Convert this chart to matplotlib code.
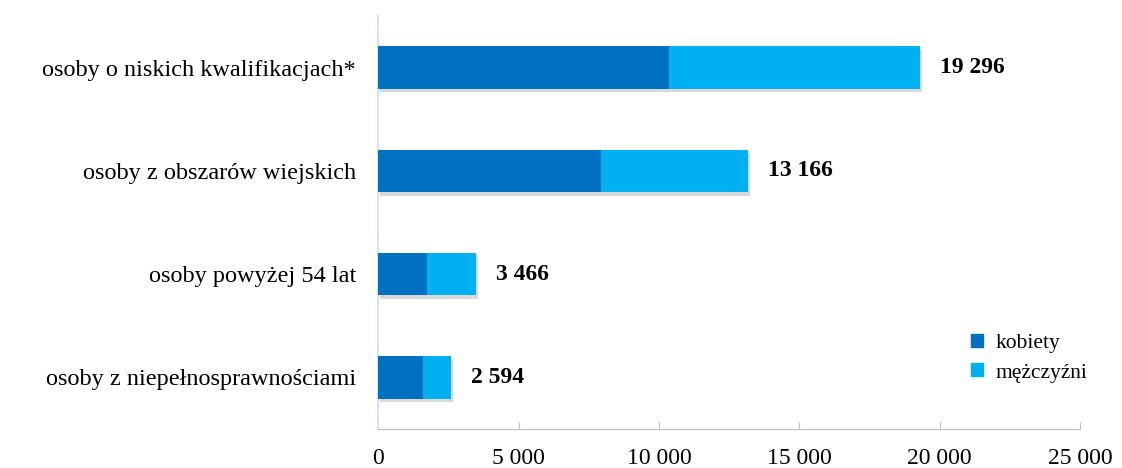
import matplotlib
matplotlib.use("Agg")
import matplotlib.pyplot as plt
import matplotlib.patheffects as pe
from matplotlib.patches import Patch

categories = ["osoby z niepełnosprawnościami", "osoby powyżej 54 lat",
              "osoby z obszarów wiejskich", "osoby o niskich kwalifikacjach*"]
kobiety = [1575, 1720, 7930, 10350]
totals = [2594, 3466, 13166, 19296]
mezczyzni = [t - k for t, k in zip(totals, kobiety)]
series_names = ["kobiety", "mężczyźni"]
xticks = [0, 5000, 10000, 15000, 20000, 25000]

plt.rcParams['font.family'] = ['Liberation Serif', 'DejaVu Serif']

fig = plt.figure(figsize=(11.22, 4.68), dpi=100)
ax = fig.add_axes([0.3372, 0.0833, 0.6254, 0.8825])

c1, c2 = "#0070C0", "#00B0F0"
shadow = [pe.SimplePatchShadow(offset=(1.5, -2.5), shadow_rgbFace="#808080", alpha=0.3), pe.Normal()]
y = list(range(len(categories)))
b1 = ax.barh(y, kobiety, height=0.41, color=c1, zorder=3)
b2 = ax.barh(y, mezczyzni, left=kobiety, height=0.41, color=c2, zorder=3)
for bar in list(b1) + list(b2):
    bar.set_path_effects(shadow)

for yi, t in zip(y, totals):
    ax.text(t + 720, yi, f"{t:,}".replace(",", " "), va="center", ha="left",
            fontsize=17, fontweight="bold", color="#000000")

ax.set_xlim(0, 25000)
ax.set_ylim(-0.5, 3.5)
ax.set_xticks(xticks)
ax.set_xticklabels([f"{v:,}".replace(",", " ") for v in xticks], fontsize=17)
ax.set_yticks(y)
ax.set_yticklabels(categories, fontsize=17.5)
ax.tick_params(axis="x", direction="in", length=5, color="#BFBFBF", pad=14)
ax.tick_params(axis="y", length=0, pad=16)
for s in ["top", "right"]:
    ax.spines[s].set_visible(False)
ax.spines["bottom"].set_color("#BFBFBF")
ax.spines["left"].set_color("#D6E3F5")
ax.spines["left"].set_linewidth(1.5)

handles = [Patch(color=c1), Patch(color=c2)]
fig.legend(handles, series_names, loc="center left", bbox_to_anchor=(0.848, 0.235),
           frameon=False, fontsize=15.5, handlelength=0.55, handleheight=0.55,
           handletextpad=0.6, labelspacing=0.5)

fig.savefig("out.png", dpi=100)
